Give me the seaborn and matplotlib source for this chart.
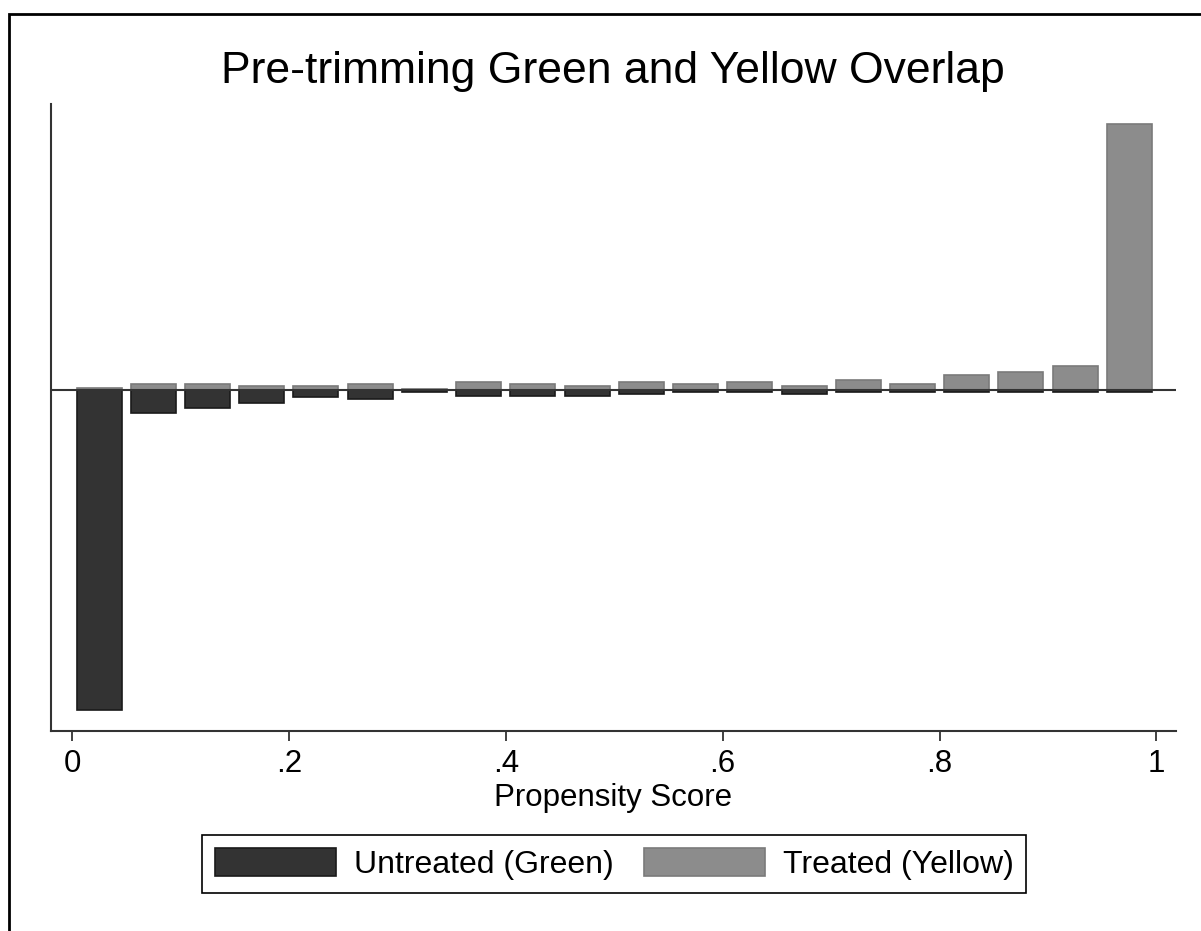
import numpy as np
import pandas as pd
import seaborn as sns
import matplotlib.pyplot as plt
from matplotlib.patches import Rectangle

# propensity score bins (width .05), heights
bin_mid = np.round(np.arange(0.025, 1.0, 0.05), 3)
untreated = [14.63, 1.05, 0.84, 0.59, 0.35, 0.42, 0.09, 0.27, 0.27, 0.27,
             0.20, 0.09, 0.12, 0.20, 0.12, 0.12, 0.12, 0.12, 0.12, 0.12]
treated = [0.09, 0.26, 0.26, 0.18, 0.18, 0.26, 0.05, 0.34, 0.26, 0.18,
           0.34, 0.27, 0.34, 0.18, 0.43, 0.27, 0.67, 0.82, 1.07, 12.13]
xtick_pos = [0, 0.2, 0.4, 0.6, 0.8, 1]
xtick_lab = ["0", ".2", ".4", ".6", ".8", "1"]

df = pd.DataFrame({"ps": bin_mid, "untreated": untreated, "treated": treated})
df["untreated_neg"] = -df["untreated"]

sns.set_style("white")
plt.rcParams["font.family"] = ["Liberation Sans", "DejaVu Sans"]
plt.rcParams["text.color"] = "black"
plt.rcParams["xtick.color"] = "black"
plt.rcParams["axes.labelcolor"] = "black"

fig = plt.figure(figsize=(12.01, 9.31), dpi=100)
ax = fig.add_axes([0.0422, 0.2151, 0.9370, 0.6732])

sns.barplot(data=df, x="ps", y="untreated_neg", native_scale=True, width=0.83,
            color="#333333", edgecolor="#1a1a1a", linewidth=1.2, saturation=1,
            errorbar=None, label="Untreated (Green)", ax=ax)
sns.barplot(data=df, x="ps", y="treated", native_scale=True, width=0.83,
            color="#8c8c8c", edgecolor="#7a7a7a", linewidth=1.2, saturation=1,
            errorbar=None, label="Treated (Yellow)", ax=ax)

ax.axhline(0, color="#333333", lw=1.5, zorder=5)
ax.set_xlim(-0.0196, 1.018)
ax.set_ylim(-15.57, 13.05)

sns.despine(ax=ax)
for s in ["left", "bottom"]:
    ax.spines[s].set_color("#333333")
    ax.spines[s].set_linewidth(1.5)

ax.set_yticks([])
ax.set_ylabel("")
ax.set_xticks(xtick_pos)
ax.set_xticklabels(xtick_lab)
ax.tick_params(axis="x", bottom=True, direction="out", length=7.5, width=1.3,
               color="#333333", labelcolor="black", labelsize=22.5, pad=5.5)
ax.set_xlabel("Propensity Score", fontsize=22.5, labelpad=3, color="black")
ax.set_title("Pre-trimming Green and Yellow Overlap", fontsize=32, pad=15,
             color="black")

h, l = ax.get_legend_handles_labels()
leg = ax.legend(h, l, loc="center", ncol=2, bbox_to_anchor=(614 / 1201, 1 - 864 / 931),
                bbox_transform=fig.transFigure, fontsize=23, frameon=True,
                fancybox=False, edgecolor="black", framealpha=1, borderpad=0.4,
                handlelength=3.8, handleheight=1.0, handletextpad=0.55,
                columnspacing=0.95)
leg.get_frame().set_linewidth(1.2)
for t in leg.get_texts():
    t.set_color("black")

# outer graph frame (runs off the right/bottom edge in the reference)
fig.add_artist(Rectangle((9 / 1201, -0.1), 2, 1 - 14 / 931 + 0.1,
                         transform=fig.transFigure, fill=False,
                         edgecolor="black", lw=2, clip_on=False))

fig.savefig("out.png", dpi=100)
